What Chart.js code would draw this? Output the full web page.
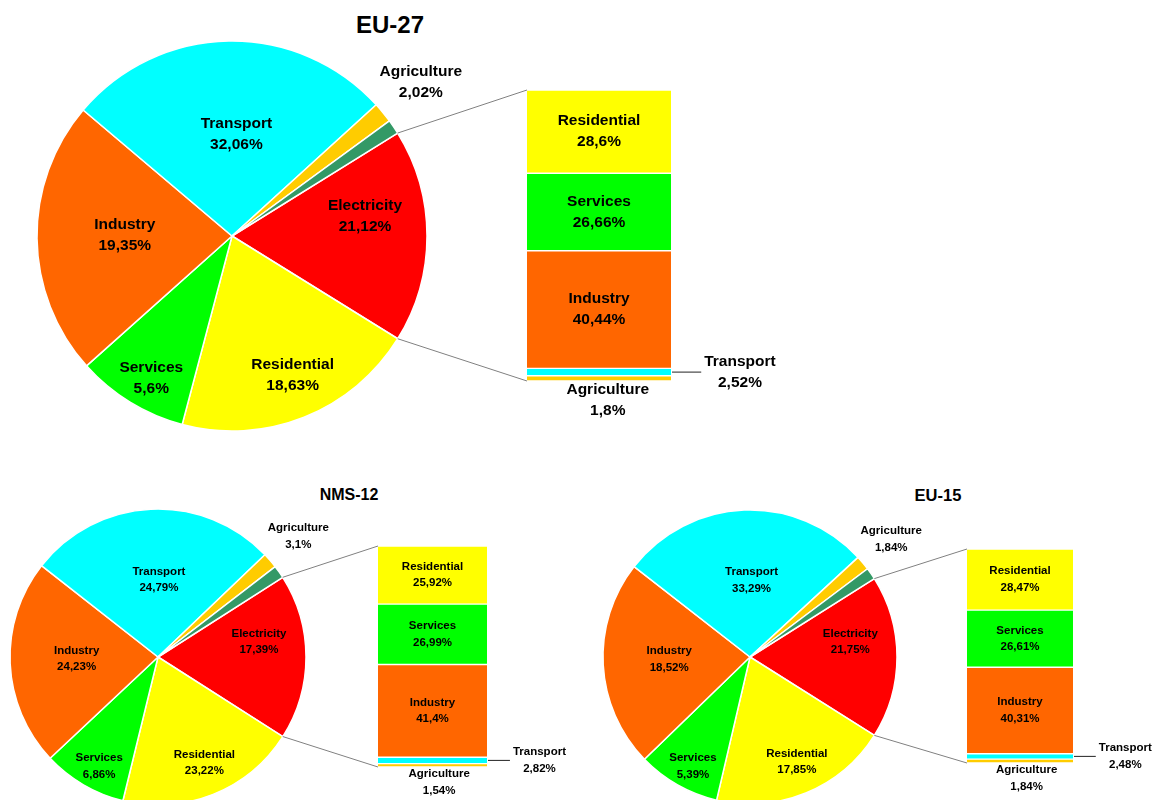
<!DOCTYPE html>
<html lang="en">
<head>
    <meta charset="UTF-8">
    <title>Energy consumption - EU-27, NMS-12, EU-15</title>
    <script src="https://cdn.jsdelivr.net/npm/chart.js"></script>
    <style>
        body {
            margin: 0;
            width: 1159px;
            height: 800px;
            overflow: hidden;
            position: relative;
            background: #fff;
            font-family: "Liberation Sans", Arial, sans-serif;
        }
        canvas { position: absolute; }
        .title {
            position: absolute;
            transform: translate(-50%, -50%);
            font-weight: bold;
            white-space: nowrap;
        }
    </style>
</head>
<body>
    <div class="title" style="left:390px; top:25px; font-size:24px;">EU-27</div>
    <div class="title" style="left:349px; top:495px; font-size:16px;">NMS-12</div>
    <div class="title" style="left:938px; top:495px; font-size:16.5px;">EU-15</div>

    <canvas id="pie27" width="800" height="472" style="left:0; top:0;"></canvas>
    <canvas id="bar27" width="144" height="291" style="left:527px; top:90px;"></canvas>

    <canvas id="pie12" width="590" height="440" style="left:0; top:440px;"></canvas>
    <canvas id="bar12" width="109" height="221" style="left:378px; top:546px;"></canvas>

    <canvas id="pie15" width="569" height="440" style="left:590px; top:440px;"></canvas>
    <canvas id="bar15" width="106" height="214" style="left:967px; top:549px;"></canvas>

<script>
    // Pie slices, clockwise starting with Electricity (the one split into the bar)
    const sliceNames = ['Electricity', 'Residential', 'Services', 'Industry', 'Transport', 'Agriculture', 'Other'];
    const sliceColors = ['#FF0000', '#FFFF00', '#00FF00', '#FF6600', '#00FFFF', '#FFCC00', '#339966'];

    // share of the circle each slice takes in the picture
    const eu27Slices = [17.7, 20.3, 9.3, 22.8, 27.1, 1.7, 1.2];
    const nms12Slices = [18.1, 19.8, 9.2, 22.6, 27.3, 1.7, 1.4];
    const eu15Slices = [17.9, 19.7, 9.1, 22.8, 27.6, 1.6, 1.3];

    // percentages printed on the slices (green slice has no label)
    const eu27Pct = [21.12, 18.63, 5.6, 19.35, 32.06, 2.02, null];
    const nms12Pct = [17.39, 23.22, 6.86, 24.23, 24.79, 3.1, null];
    const eu15Pct = [21.75, 17.85, 5.39, 18.52, 33.29, 1.84, null];

    // Electricity breakdown, top to bottom of the bar
    const barNames = ['Residential', 'Services', 'Industry', 'Transport', 'Agriculture'];
    const barColors = ['#FFFF00', '#00FF00', '#FF6600', '#00FFFF', '#FFCC00'];
    const eu27Bar = [28.6, 26.66, 40.44, 2.52, 1.8];
    const nms12Bar = [25.92, 26.99, 41.4, 2.82, 1.54];
    const eu15Bar = [28.47, 26.61, 40.31, 2.48, 1.84];

    // label placement on the pie: [radius factor, angle shift in degrees]
    const labelSpots = {
        Electricity: [0.69, -8.6],
        Residential: [0.78, -1.8],
        Services: [0.84, -2],
        Industry: [0.55, 1.3],
        Transport: [0.52, 3.5],
        Agriculture: [1.25, 0]
    };

    function fmt(v) {
        return String(v).replace('.', ',') + '%';
    }

    function twoLines(ctx, a, b, x, y, gap) {
        ctx.fillText(a, x, y - gap / 2);
        ctx.fillText(b, x, y + gap / 2);
    }

    function makePanel(p) {
        const font = `bold ${p.fontSize}px "Liberation Sans", Arial, sans-serif`;
        const total = p.bar.reduce((s, v) => s + v, 0);

        // stacked bar: datasets go bottom-up, so reverse the top-down arrays
        const barSets = barNames.map((name, i) => ({
            label: name,
            data: [p.bar[i]],
            pct: p.bar[i],
            backgroundColor: barColors[i],
            borderColor: '#fff',
            borderWidth: { top: 1, bottom: 1, left: 0, right: 0 },
            borderSkipped: false,
            barPercentage: 1,
            categoryPercentage: 1
        })).reverse();

        const barLabels = {
            id: 'barLabels',
            afterDatasetsDraw(chart) {
                const ctx = chart.ctx;
                ctx.save();
                ctx.font = font;
                ctx.fillStyle = '#000';
                ctx.textAlign = 'center';
                ctx.textBaseline = 'middle';
                chart.data.datasets.forEach((ds, i) => {
                    if (!['Residential', 'Services', 'Industry'].includes(ds.label)) return;
                    const el = chart.getDatasetMeta(i).data[0];
                    twoLines(ctx, ds.label, fmt(ds.pct), el.x, (el.y + el.base) / 2, p.gap);
                });
                ctx.restore();
            }
        };

        const barChart = new Chart(document.getElementById(p.barId), {
            type: 'bar',
            data: { labels: [''], datasets: barSets },
            options: {
                responsive: false,
                animation: false,
                events: [],
                layout: { padding: 0 },
                plugins: { legend: { display: false }, tooltip: { enabled: false } },
                scales: {
                    x: { display: false, stacked: true },
                    y: { display: false, stacked: true, min: 0, max: total }
                }
            },
            plugins: [barLabels]
        });

        const pieCanvas = document.getElementById(p.pieId);
        const barCanvas = document.getElementById(p.barId);

        const pieLabels = {
            id: 'pieLabels',
            afterDatasetsDraw(chart) {
                const ctx = chart.ctx;
                const arcs = chart.getDatasetMeta(0).data;
                ctx.save();
                ctx.font = font;
                ctx.fillStyle = '#000';
                ctx.textAlign = 'center';
                ctx.textBaseline = 'middle';

                arcs.forEach((arc, i) => {
                    const spot = labelSpots[sliceNames[i]];
                    if (!spot || p.pct[i] == null) return;
                    const a = (arc.startAngle + arc.endAngle) / 2 + spot[1] * Math.PI / 180;
                    const r = arc.outerRadius * spot[0];
                    twoLines(ctx, sliceNames[i], fmt(p.pct[i]), arc.x + r * Math.cos(a), arc.y + r * Math.sin(a), p.gap);
                });

                // bar geometry, moved into this canvas
                const dx = barCanvas.offsetLeft - pieCanvas.offsetLeft;
                const dy = barCanvas.offsetTop - pieCanvas.offsetTop;
                const metas = barChart.data.datasets.map((d, i) => barChart.getDatasetMeta(i).data[0]);
                const topEl = metas[metas.length - 1];
                const agriEl = metas[0];
                const transEl = metas[1];
                const left = topEl.x - topEl.width / 2 + dx;
                const right = topEl.x + topEl.width / 2 + dx;
                const midX = topEl.x + dx;
                const top = topEl.y + dy;
                const bottom = agriEl.base + dy;

                // lines from the Electricity slice to the bar
                const el = arcs[0];
                const R = el.outerRadius;
                ctx.strokeStyle = '#808080';
                ctx.lineWidth = 1;
                ctx.beginPath();
                ctx.moveTo(el.x + R * Math.cos(el.startAngle), el.y + R * Math.sin(el.startAngle));
                ctx.lineTo(left, top);
                ctx.moveTo(el.x + R * Math.cos(el.endAngle), el.y + R * Math.sin(el.endAngle));
                ctx.lineTo(left, bottom);
                ctx.stroke();

                // Transport: leader line to the right
                const ty = (transEl.y + transEl.base) / 2 + dy;
                const lineEnd = right + 0.155 * R;
                ctx.strokeStyle = '#222';
                ctx.beginPath();
                ctx.moveTo(right + 1, ty);
                ctx.lineTo(lineEnd, ty);
                ctx.stroke();
                const tw = ctx.measureText('Transport').width;
                twoLines(ctx, 'Transport', fmt(p.bar[3]), lineEnd + 3 + tw / 2, ty, p.gap);

                // Agriculture: under the bar
                const ay = bottom + 0.047 * R + p.gap / 2;
                twoLines(ctx, 'Agriculture', fmt(p.bar[4]), midX + 0.045 * R, ay, p.gap);

                ctx.restore();
            }
        };

        new Chart(pieCanvas, {
            type: 'pie',
            data: {
                labels: sliceNames,
                datasets: [{
                    data: p.slices,
                    backgroundColor: sliceColors,
                    borderColor: '#fff',
                    borderWidth: 1.5,
                    hoverOffset: 0
                }]
            },
            options: {
                responsive: false,
                animation: false,
                events: [],
                radius: p.radius,
                // Electricity slice centred on 3 o'clock
                rotation: 90 - 1.8 * p.slices[0],
                layout: { padding: p.padding },
                plugins: { legend: { display: false }, tooltip: { enabled: false } }
            },
            plugins: [pieLabels]
        });
    }

    makePanel({
        pieId: 'pie27', barId: 'bar27',
        slices: eu27Slices, pct: eu27Pct, bar: eu27Bar,
        radius: 195, padding: { left: 0, top: 0, right: 336, bottom: 0 },
        fontSize: 15.5, gap: 21
    });

    makePanel({
        pieId: 'pie12', barId: 'bar12',
        slices: nms12Slices, pct: nms12Pct, bar: nms12Bar,
        radius: 148, padding: { left: 0, top: 0, right: 274, bottom: 6 },
        fontSize: 11.5, gap: 16.5
    });

    makePanel({
        pieId: 'pie15', barId: 'bar15',
        slices: eu15Slices, pct: eu15Pct, bar: eu15Bar,
        radius: 147, padding: { left: 0, top: 0, right: 249, bottom: 6 },
        fontSize: 11.5, gap: 16.5
    });
</script>
</body>
</html>
